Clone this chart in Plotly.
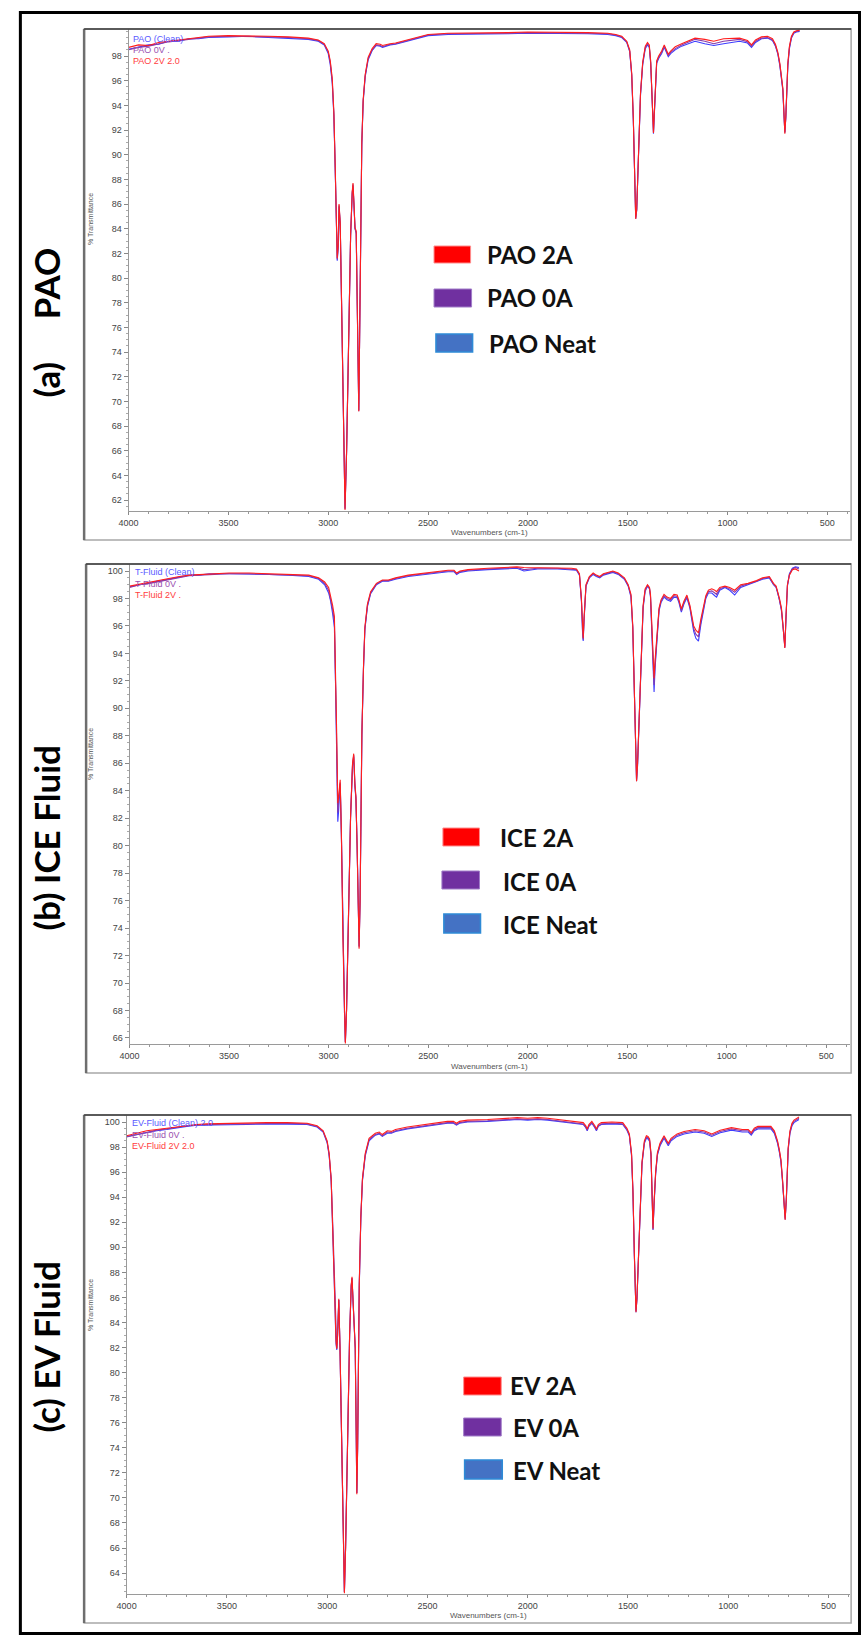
import plotly.graph_objects as go

# ---------------- DATA ----------------
WN_A = [4000, 3950, 3900, 3850, 3800, 3750, 3700, 3650, 3600, 3500,
        3400, 3300, 3200, 3100, 3050, 3020, 3000, 2990, 2980, 2972,
        2965, 2958, 2955, 2950, 2946, 2940, 2932, 2924, 2916, 2908,
        2898, 2888, 2880, 2876, 2871, 2866, 2860, 2854, 2849, 2847,
        2843, 2838, 2832, 2825, 2815, 2800, 2780, 2760, 2740, 2728,
        2710, 2690, 2663, 2600, 2500, 2400, 2300, 2200, 2100, 2000,
        1900, 1800, 1700, 1600, 1560, 1530, 1505, 1490, 1480, 1472,
        1466, 1460, 1455, 1450, 1444, 1436, 1425, 1412, 1401, 1392,
        1385, 1378, 1374, 1371, 1368, 1362, 1355, 1345, 1330, 1317,
        1305, 1297, 1285, 1262, 1230, 1200, 1163, 1114, 1069, 1020,
        980, 940, 900, 880, 860, 830, 800, 775, 760, 748,
        738, 730, 723, 718, 713, 708, 703, 698, 690, 680,
        668, 655, 639]
PAO_2A = [98.7, 98.9, 98.85, 99.1, 99.2, 99.3, 99.4, 99.5, 99.6, 99.65,
          99.65, 99.6, 99.55, 99.45, 99.3, 99.0, 98.4, 97.6, 96.2, 93.5,
          89.0, 84.0, 81.6, 82.8, 86.0, 84.5, 77.5, 68.0, 61.2, 66.0,
          76.0, 83.5, 87.0, 87.7, 86.0, 84.1, 83.8, 78.0, 70.5, 69.2,
          75.0, 85.0, 91.0, 94.5, 96.5, 97.9, 98.6, 99.0, 98.95, 98.85,
          98.95, 99.0, 99.05, 99.3, 99.75, 99.85, 99.85, 99.9, 99.9, 99.95,
          99.95, 99.95, 99.9, 99.85, 99.75, 99.6, 99.2, 98.5, 96.6, 93.0,
          88.0, 84.8, 85.6, 88.5, 92.0, 95.0, 97.5, 98.8, 99.1, 98.9,
          97.6, 95.0, 92.6, 91.75, 93.0, 96.0, 97.6, 98.0, 98.4, 98.9,
          98.5, 98.15, 98.4, 98.75, 99.0, 99.2, 99.45, 99.35, 99.2, 99.4,
          99.45, 99.45, 99.25, 98.9, 99.3, 99.55, 99.6, 99.4, 98.95, 98.3,
          97.4, 96.5, 95.4, 93.6, 91.7, 93.2, 95.6, 97.4, 98.8, 99.6,
          99.95, 100.05, 100.1]
PAO_0A = [98.5, 98.7, 98.8, 99.0, 99.15, 99.25, 99.35, 99.45, 99.55, 99.6,
          99.6, 99.55, 99.5, 99.4, 99.25, 98.95, 98.3, 97.5, 96.0, 93.3,
          88.8, 83.8, 81.5, 82.6, 85.9, 84.4, 77.4, 68.0, 61.3, 66.0,
          76.0, 83.4, 86.9, 87.6, 85.9, 84.0, 83.7, 78.0, 70.4, 69.2,
          75.0, 84.9, 90.9, 94.4, 96.4, 97.8, 98.5, 98.9, 98.85, 98.75,
          98.85, 98.95, 99.0, 99.25, 99.7, 99.8, 99.8, 99.85, 99.85, 99.9,
          99.9, 99.9, 99.85, 99.8, 99.7, 99.55, 99.15, 98.4, 96.5, 92.9,
          87.9, 84.8, 85.5, 88.4, 91.9, 94.9, 97.4, 98.7, 99.0, 98.8,
          97.5, 94.9, 92.4, 91.8, 92.9, 95.9, 97.5, 97.9, 98.3, 98.8,
          98.4, 98.05, 98.3, 98.6, 98.9, 99.1, 99.35, 99.2, 99.0, 99.2,
          99.3, 99.35, 99.15, 98.8, 99.2, 99.45, 99.5, 99.3, 98.85, 98.2,
          97.3, 96.4, 95.3, 93.5, 91.8, 93.1, 95.5, 97.3, 98.7, 99.5,
          99.9, 100.0, 100.05]
PAO_NEAT = [98.55, 98.75, 98.9, 98.95, 99.2, 99.2, 99.4, 99.4, 99.5, 99.55,
            99.6, 99.5, 99.45, 99.35, 99.2, 98.9, 98.2, 97.3, 95.8, 93.2,
            88.7, 83.7, 81.4, 82.5, 85.8, 84.3, 77.3, 68.0, 61.3, 66.1,
            76.1, 83.4, 86.8, 87.5, 85.8, 84.0, 83.6, 78.0, 70.4, 69.3,
            75.1, 84.8, 90.8, 94.3, 96.3, 97.7, 98.45, 98.85, 98.8, 98.7,
            98.8, 98.9, 98.95, 99.2, 99.65, 99.75, 99.75, 99.8, 99.8, 99.85,
            99.85, 99.85, 99.8, 99.75, 99.65, 99.5, 99.1, 98.35, 96.4, 92.8,
            87.8, 84.9, 85.5, 88.3, 91.8, 94.8, 97.3, 98.6, 98.9, 98.7,
            97.4, 94.8, 92.2, 91.7, 92.8, 95.8, 97.4, 97.8, 98.2, 98.7,
            98.3, 97.95, 98.2, 98.5, 98.8, 99.0, 99.2, 99.0, 98.85, 99.0,
            99.1, 99.2, 99.05, 98.7, 99.1, 99.4, 99.45, 99.25, 98.8, 98.15,
            97.2, 96.3, 95.2, 93.4, 91.8, 93.0, 95.4, 97.2, 98.6, 99.45,
            99.85, 99.95, 100.0]

WN_B = [4000, 3950, 3900, 3850, 3800, 3750, 3700, 3650, 3600, 3500,
        3400, 3300, 3200, 3100, 3050, 3020, 3000, 2990, 2980, 2971,
        2965, 2960, 2954, 2950, 2942, 2936, 2928, 2920, 2916, 2910,
        2900, 2890, 2880, 2874, 2868, 2863, 2857, 2850, 2847, 2842,
        2838, 2833, 2825, 2818, 2805, 2789, 2760, 2730, 2700, 2664,
        2600, 2500, 2400, 2370, 2357, 2340, 2300, 2200, 2100, 2054,
        2019, 1950, 1850, 1780, 1755, 1740, 1730, 1724, 1721, 1717,
        1712, 1707, 1690, 1671, 1655, 1638, 1620, 1600, 1572, 1545,
        1514, 1495, 1481, 1472, 1465, 1458, 1453, 1448, 1440, 1430,
        1420, 1410, 1398, 1388, 1383, 1376, 1370, 1365, 1360, 1353,
        1340, 1330, 1315, 1300, 1282, 1265, 1249, 1240, 1228, 1215,
        1200, 1185, 1166, 1155, 1142, 1130, 1117, 1105, 1092, 1075,
        1060, 1051, 1035, 1009, 985, 960, 930, 893, 850, 820,
        786, 765, 752, 744, 735, 725, 716, 708, 702, 695,
        685, 670, 655, 637]
ICE_2A = [98.9, 99.05, 99.2, 99.3, 99.45, 99.6, 99.7, 99.75, 99.8, 99.85,
          99.85, 99.8, 99.75, 99.7, 99.5, 99.2, 98.8, 98.2, 97.5, 96.7,
          93.0, 88.5, 83.1, 83.5, 84.8, 81.0, 73.0, 67.5, 65.6, 68.0,
          75.0, 82.0, 86.0, 86.7, 84.5, 83.6, 80.0, 74.0, 72.5, 76.0,
          83.0, 88.2, 93.0, 95.9, 97.6, 98.5, 99.1, 99.35, 99.35, 99.5,
          99.7, 99.9, 100.05, 100.05, 99.85, 100.0, 100.1, 100.2, 100.25, 100.3,
          100.25, 100.25, 100.25, 100.2, 100.15, 99.8, 98.0, 95.6, 95.1, 96.5,
          98.3, 99.0, 99.6, 99.85, 99.7, 99.6, 99.8, 99.9, 100.0, 99.85,
          99.5, 99.0, 98.3, 96.0, 91.5, 86.5, 84.7, 86.0, 89.5, 94.5,
          97.5, 98.7, 99.0, 98.8, 98.3, 96.0, 93.5, 92.2, 93.5, 95.0,
          97.3, 97.9, 98.3, 98.1, 98.0, 98.3, 98.25, 97.9, 97.25, 97.8,
          98.25, 97.5, 96.0, 95.7, 95.5, 96.5, 97.4, 98.2, 98.6, 98.7,
          98.6, 98.5, 98.8, 98.9, 98.8, 98.6, 99.0, 99.1, 99.3, 99.5,
          99.6, 99.1, 98.9, 98.5, 98.0, 97.3, 96.0, 94.4, 96.8, 99.0,
          99.7, 100.1, 100.15, 100.0]
ICE_0A = [98.8, 99.0, 99.1, 99.25, 99.4, 99.55, 99.65, 99.7, 99.75, 99.8,
          99.8, 99.75, 99.7, 99.65, 99.45, 99.1, 98.6, 98.0, 97.2, 96.3,
          92.3, 87.8, 82.4, 83.0, 84.6, 80.9, 73.0, 67.6, 65.7, 68.0,
          75.0, 82.0, 85.9, 86.6, 84.4, 83.5, 80.0, 74.1, 72.6, 76.0,
          83.0, 88.1, 92.9, 95.8, 97.5, 98.4, 99.05, 99.3, 99.3, 99.45,
          99.65, 99.85, 100.0, 100.0, 99.8, 99.95, 100.05, 100.15, 100.2, 100.25,
          100.1, 100.2, 100.2, 100.15, 100.1, 99.75, 97.9, 95.5, 95.0, 96.4,
          98.2, 98.95, 99.55, 99.8, 99.65, 99.55, 99.75, 99.85, 99.95, 99.8,
          99.45, 98.95, 98.2, 95.9, 91.4, 86.4, 84.7, 85.9, 89.4, 94.4,
          97.4, 98.6, 98.95, 98.75, 98.2, 95.7, 93.0, 91.7, 93.2, 94.8,
          97.2, 97.8, 98.2, 98.0, 97.9, 98.2, 98.15, 97.8, 97.1, 97.7,
          98.15, 97.4, 95.8, 95.4, 95.2, 96.3, 97.3, 98.1, 98.5, 98.55,
          98.4, 98.3, 98.7, 98.85, 98.7, 98.45, 98.9, 99.05, 99.25, 99.45,
          99.55, 99.05, 98.85, 98.45, 97.95, 97.2, 95.9, 94.4, 96.7, 98.95,
          99.75, 100.15, 100.25, 100.15]
ICE_NEAT = [98.85, 99.0, 99.15, 99.3, 99.4, 99.55, 99.7, 99.7, 99.8, 99.8,
            99.8, 99.75, 99.7, 99.6, 99.4, 99.0, 98.4, 97.8, 96.9, 95.9,
            91.5, 87.0, 81.75, 82.5, 84.5, 80.8, 73.0, 67.6, 65.7, 68.1,
            75.1, 82.0, 85.8, 86.5, 84.3, 83.4, 80.0, 74.2, 72.7, 76.1,
            83.1, 88.0, 92.8, 95.7, 97.4, 98.35, 99.0, 99.25, 99.25, 99.4,
            99.6, 99.8, 99.95, 99.95, 99.75, 99.9, 100.0, 100.1, 100.15, 100.2,
            100.0, 100.15, 100.15, 100.1, 100.05, 99.7, 97.8, 95.4, 94.9, 96.3,
            98.1, 98.9, 99.5, 99.75, 99.6, 99.5, 99.7, 99.8, 99.9, 99.75,
            99.4, 98.9, 98.1, 95.8, 91.3, 86.3, 84.8, 85.8, 89.3, 94.3,
            97.3, 98.5, 98.9, 98.7, 98.1, 95.4, 92.5, 91.2, 92.9, 94.6,
            97.1, 97.7, 98.1, 97.9, 97.8, 98.1, 98.05, 97.7, 97.0, 97.6,
            98.05, 97.3, 95.6, 95.1, 94.9, 96.1, 97.2, 98.0, 98.4, 98.4,
            98.2, 98.1, 98.6, 98.8, 98.6, 98.25, 98.8, 99.0, 99.2, 99.4,
            99.5, 99.0, 98.8, 98.4, 97.9, 97.1, 95.8, 94.5, 96.6, 98.9,
            99.8, 100.2, 100.3, 100.25]

WN_C = [4000, 3950, 3900, 3850, 3800, 3750, 3700, 3650, 3600, 3500,
        3400, 3300, 3200, 3100, 3050, 3020, 3000, 2990, 2980, 2970,
        2962, 2956, 2952, 2948, 2942, 2936, 2928, 2920, 2914, 2908,
        2898, 2888, 2880, 2876, 2870, 2865, 2860, 2855, 2852, 2848,
        2844, 2840, 2832, 2824, 2810, 2791, 2760, 2740, 2725, 2700,
        2680, 2659, 2600, 2500, 2400, 2370, 2355, 2340, 2300, 2200,
        2100, 2052, 2000, 1950, 1900, 1850, 1780, 1723, 1710, 1703,
        1695, 1680, 1665, 1657, 1648, 1633, 1580, 1526, 1505, 1493,
        1482, 1475, 1468, 1463, 1460, 1455, 1448, 1440, 1430, 1418,
        1408, 1400, 1392, 1385, 1380, 1375, 1370, 1362, 1353, 1340,
        1320, 1308, 1299, 1285, 1255, 1220, 1165, 1120, 1082, 1040,
        984, 930, 900, 885, 870, 852, 787, 770, 754, 745,
        737, 729, 722, 716, 710, 706, 701, 692, 682, 672,
        660, 647]
EV_2A = [98.9, 99.1, 99.3, 99.4, 99.5, 99.65, 99.75, 99.8, 99.85, 99.9,
         99.9, 99.95, 99.95, 99.9, 99.7, 99.3, 98.5, 97.5, 95.5, 91.0,
         86.0, 82.5, 81.9, 83.0, 85.9, 82.0, 74.0, 66.0, 62.4, 66.0,
         75.0, 83.0, 87.0, 87.65, 85.5, 84.2, 82.0, 75.0, 70.3, 74.0,
         82.0, 87.0, 92.5, 95.5, 97.5, 98.7, 99.1, 99.2, 99.0, 99.3,
         99.25, 99.4, 99.6, 99.85, 100.05, 100.05, 99.9, 100.05, 100.15, 100.2,
         100.3, 100.35, 100.3, 100.35, 100.3, 100.2, 100.1, 99.95, 99.7, 99.45,
         99.8, 100.05, 99.7, 99.45, 99.8, 99.95, 100.0, 99.95, 99.5, 99.05,
         97.5, 94.5, 89.5, 86.0, 84.85, 86.0, 89.5, 93.6, 96.8, 98.5,
         98.9, 98.85, 98.65, 97.5, 95.0, 91.5, 93.5, 96.0, 97.55, 98.3,
         98.9, 98.6, 98.3, 98.7, 99.05, 99.25, 99.4, 99.3, 99.05, 99.35,
         99.55, 99.4, 99.4, 99.15, 99.5, 99.65, 99.65, 99.3, 98.5, 97.8,
         97.0, 95.4, 94.0, 92.2, 94.0, 96.3, 97.95, 99.3, 99.9, 100.15,
         100.3, 100.4]
EV_0A = [98.8, 99.0, 99.2, 99.35, 99.45, 99.6, 99.7, 99.75, 99.8, 99.85,
         99.85, 99.9, 99.9, 99.85, 99.65, 99.25, 98.4, 97.4, 95.4, 90.9,
         85.9, 82.4, 81.9, 83.0, 85.8, 82.0, 74.0, 66.1, 62.5, 66.1,
         75.0, 83.0, 86.9, 87.55, 85.4, 84.1, 82.0, 75.0, 70.4, 74.0,
         82.0, 86.9, 92.4, 95.4, 97.4, 98.6, 99.0, 99.1, 98.9, 99.2,
         99.15, 99.3, 99.5, 99.75, 99.95, 99.95, 99.8, 99.95, 100.05, 100.1,
         100.2, 100.25, 100.2, 100.25, 100.2, 100.1, 100.0, 99.85, 99.6, 99.35,
         99.7, 99.95, 99.6, 99.35, 99.7, 99.85, 99.9, 99.85, 99.4, 98.95,
         97.4, 94.4, 89.4, 85.9, 84.8, 85.9, 89.4, 93.5, 96.7, 98.4,
         98.8, 98.75, 98.55, 97.4, 94.9, 91.4, 93.4, 95.9, 97.45, 98.2,
         98.8, 98.5, 98.2, 98.6, 98.95, 99.15, 99.3, 99.2, 98.95, 99.25,
         99.45, 99.3, 99.3, 99.05, 99.4, 99.55, 99.55, 99.2, 98.4, 97.7,
         96.9, 95.3, 93.9, 92.2, 93.9, 96.2, 97.85, 99.2, 99.8, 100.05,
         100.2, 100.3]
EV_NEAT = [98.85, 99.0, 99.2, 99.3, 99.4, 99.55, 99.65, 99.75, 99.75, 99.8,
           99.8, 99.85, 99.85, 99.8, 99.6, 99.2, 98.35, 97.3, 95.3, 90.8,
           85.8, 82.3, 81.8, 82.9, 85.8, 82.0, 74.0, 66.1, 62.5, 66.1,
           75.1, 83.0, 86.9, 87.5, 85.4, 84.1, 81.9, 75.0, 70.4, 74.1,
           82.0, 86.8, 92.3, 95.3, 97.3, 98.5, 98.95, 99.05, 98.85, 99.1,
           99.1, 99.25, 99.45, 99.7, 99.9, 99.9, 99.75, 99.9, 100.0, 100.05,
           100.15, 100.2, 100.15, 100.2, 100.15, 100.05, 99.95, 99.8, 99.55, 99.3,
           99.65, 99.9, 99.55, 99.3, 99.65, 99.8, 99.85, 99.8, 99.35, 98.9,
           97.3, 94.3, 89.3, 85.9, 84.9, 85.9, 89.3, 93.4, 96.6, 98.3,
           98.7, 98.65, 98.45, 97.3, 94.8, 91.4, 93.3, 95.8, 97.35, 98.1,
           98.7, 98.4, 98.1, 98.5, 98.85, 99.05, 99.2, 99.1, 98.85, 99.15,
           99.35, 99.2, 99.2, 98.95, 99.3, 99.45, 99.45, 99.1, 98.3, 97.6,
           96.8, 95.2, 93.8, 92.3, 93.8, 96.1, 97.75, 99.1, 99.7, 99.95,
           100.1, 100.2]

Y_TICKS_A = [62, 64, 66, 68, 70, 72, 74, 76, 78, 80, 82, 84, 86, 88, 90, 92, 94, 96, 98]
Y_TICKS_B = [66, 68, 70, 72, 74, 76, 78, 80, 82, 84, 86, 88, 90, 92, 94, 96, 98, 100]
Y_TICKS_C = [64, 66, 68, 70, 72, 74, 76, 78, 80, 82, 84, 86, 88, 90, 92, 94, 96, 98, 100]
X_TICKS = [4000, 3500, 3000, 2500, 2000, 1500, 1000, 500]

PANEL_LABELS = ["(a)\u00a0\u00a0\u00a0\u00a0 PAO", "(b) ICE Fluid", "(c) EV Fluid"]
INSET_LABELS = [["PAO (Clean)", "PAO 0V .", "PAO 2V 2.0"],
                ["T-Fluid (Clean)", "T-Fluid 0V .", "T-Fluid 2V ."],
                ["EV-Fluid (Clean) 2.0", "EV-Fluid 0V .", "EV-Fluid 2V 2.0"]]
LEGEND_LABELS = [["PAO 2A", "PAO 0A", "PAO Neat"],
                 ["ICE 2A", "ICE 0A", "ICE Neat"],
                 ["EV 2A", "EV 0A", "EV Neat"]]

# ---------------- LAYOUT / STYLE ----------------
W, H = 861, 1636
def px(x): return x / W
def py(y): return 1 - y / H

BLUE = "#3c3cff"
PURPLE = "#8a3aa8"
RED = "#ff1e1e"
LBL_BLUE, LBL_PURPLE, LBL_RED = "#5a5aff", "#9a50b0", "#ff4040"

panels = [
    dict(wn=WN_A, series=[PAO_NEAT, PAO_0A, PAO_2A], yt=Y_TICKS_A, x0=120, x1=850, y0=29, y1=511,
         xr=[4000, 386], yr=[61.11, 100.19], frame=(75, 29, 851, 540),
         inset=(122, 39, 11), xtitle_y=532, label_y=323,
         leg=[((429, 246, 466, 263), (481, 255)), ((429, 289, 467, 307), (481, 298)),
              ((431, 334, 468, 352), (483, 343))]),
    dict(wn=WN_B, series=[ICE_NEAT, ICE_0A, ICE_2A], yt=Y_TICKS_B, x0=121, x1=850, y0=564, y1=1044,
         xr=[4000, 380], yr=[65.56, 100.51], frame=(77, 564, 851, 1073),
         inset=(124, 572, 11.5), xtitle_y=1066, label_y=838,
         leg=[((438, 828, 475, 846), (494, 837)), ((437, 871, 475, 889), (497, 881)),
              ((439, 914, 476, 933), (497, 924))]),
    dict(wn=WN_C, series=[EV_NEAT, EV_0A, EV_2A], yt=Y_TICKS_C, x0=118, x1=850, y0=1115, y1=1594,
         xr=[4000, 392], yr=[62.33, 100.56], frame=(75, 1115, 851, 1623),
         inset=(121, 1123, 11.5), xtitle_y=1615, label_y=1347,
         leg=[((459, 1377, 497, 1395), (504, 1385)), ((459, 1418, 497, 1436), (507, 1427)),
              ((460, 1460, 498, 1479), (507, 1470))]),
]

fig = go.Figure()
shapes, annots = [], []
tickfont = dict(family="Liberation Sans, Arial", size=9, color="#444444")
line_colors = [BLUE, PURPLE, RED]
leg_fill = [("#ff0000", "#ff8c8c", 1), ("#7030a0", "#a07cc8", 1), ("#4472c4", "#2e8ad6", 1.6)]

for i, p in enumerate(panels):
    sfx = "" if i == 0 else str(i + 1)
    xa, ya = "x" + sfx, "y" + sfx
    for vals, col in zip(p["series"], line_colors):
        fig.add_trace(go.Scatter(x=p["wn"], y=vals, mode="lines",
                                 line=dict(color=col, width=1.1),
                                 xaxis=xa, yaxis=ya, showlegend=False, hoverinfo="skip"))
    fig.layout["xaxis" + sfx] = dict(
        domain=[px(p["x0"]), px(p["x1"])], range=p["xr"], anchor=ya,
        tickvals=X_TICKS, ticks="outside", ticklen=3, tickcolor="#888888",
        showline=True, linecolor="#9a9a9a", linewidth=1, showgrid=False, zeroline=False,
        tickfont=tickfont, fixedrange=True,
        minor=dict(dtick=100, ticks="outside", ticklen=2, tickcolor="#999999", showgrid=False))
    fig.layout["yaxis" + sfx] = dict(
        domain=[py(p["y1"]), py(p["y0"])], range=p["yr"], anchor=xa,
        tickvals=p["yt"], ticks="outside", ticklen=4, tickcolor="#888888",
        showline=True, linecolor="#9a9a9a", linewidth=1, showgrid=False, zeroline=False,
        tickfont=tickfont, fixedrange=True,
        minor=dict(dtick=0.5, tick0=0, ticks="outside", ticklen=2, tickcolor="#aaaaaa",
                   showgrid=False))

    fx0, fy0, fx1, fy1 = p["frame"]
    shapes.append(dict(type="rect", xref="paper", yref="paper", x0=px(fx0), x1=px(fx1),
                       y0=py(fy1), y1=py(fy0), line=dict(color="#a8a8a8", width=1.5),
                       layer="below"))
    shapes.append(dict(type="line", xref="paper", yref="paper", x0=px(fx0), x1=px(fx0),
                       y0=py(fy1), y1=py(fy0), line=dict(color="#6e6e6e", width=2.5)))
    shapes.append(dict(type="line", xref="paper", yref="paper", x0=px(fx0), x1=px(fx1),
                       y0=py(p["y0"]), y1=py(p["y0"]), line=dict(color="#3a3a3a", width=1.5)))

    # inset trace labels
    ix, iy, dy = p["inset"]
    for k, (txt, c) in enumerate(zip(INSET_LABELS[i], [LBL_BLUE, LBL_PURPLE, LBL_RED])):
        annots.append(dict(x=px(ix), y=py(iy + k * dy), xref="paper", yref="paper",
                           text=txt, showarrow=False, xanchor="left", yanchor="middle",
                           font=dict(family="Liberation Sans, Arial", size=9, color=c)))
    # axis titles
    annots.append(dict(x=px((p["x0"] + p["x1"]) / 2), y=py(p["xtitle_y"]), xref="paper",
                       yref="paper", text="Wavenumbers (cm-1)", showarrow=False,
                       xanchor="center", yanchor="middle",
                       font=dict(family="Liberation Sans, Arial", size=8, color="#555555")))
    annots.append(dict(x=px(81), y=py(p["y0"] + 190), xref="paper", yref="paper",
                       text="% Transmittance", showarrow=False, textangle=-90,
                       xanchor="center", yanchor="middle",
                       font=dict(family="Liberation Sans, Arial", size=7, color="#555555")))
    # panel label
    annots.append(dict(x=px(36), y=py(p["label_y"]), xref="paper", yref="paper",
                       text="<b>" + PANEL_LABELS[i] + "</b>", showarrow=False, textangle=-90,
                       xanchor="center", yanchor="middle",
                       font=dict(family="Lato, Open Sans", size=35, color="#000000")))
    # legend boxes
    for (box, tpos), (fill, border, lw), txt in zip(p["leg"], leg_fill, LEGEND_LABELS[i]):
        bx0, by0, bx1, by1 = box
        shapes.append(dict(type="rect", xref="paper", yref="paper", x0=px(bx0), x1=px(bx1),
                           y0=py(by1), y1=py(by0), fillcolor=fill,
                           line=dict(color=border, width=lw)))
        annots.append(dict(x=px(tpos[0]), y=py(tpos[1]), xref="paper", yref="paper",
                           text="<b>" + txt + "</b>", showarrow=False, xanchor="left",
                           yanchor="middle",
                           font=dict(family="Lato, Open Sans", size=24, color="#111111")))

# outer black border
shapes.append(dict(type="rect", xref="paper", yref="paper", x0=px(10.5), x1=px(859.5),
                   y0=py(1633.5), y1=py(12.5), line=dict(color="#000000", width=3)))

fig.update_layout(width=W, height=H, margin=dict(l=0, r=0, t=0, b=0),
                  paper_bgcolor="white", plot_bgcolor="white",
                  shapes=shapes, annotations=annots, showlegend=False)
fig.write_html("out.html")
